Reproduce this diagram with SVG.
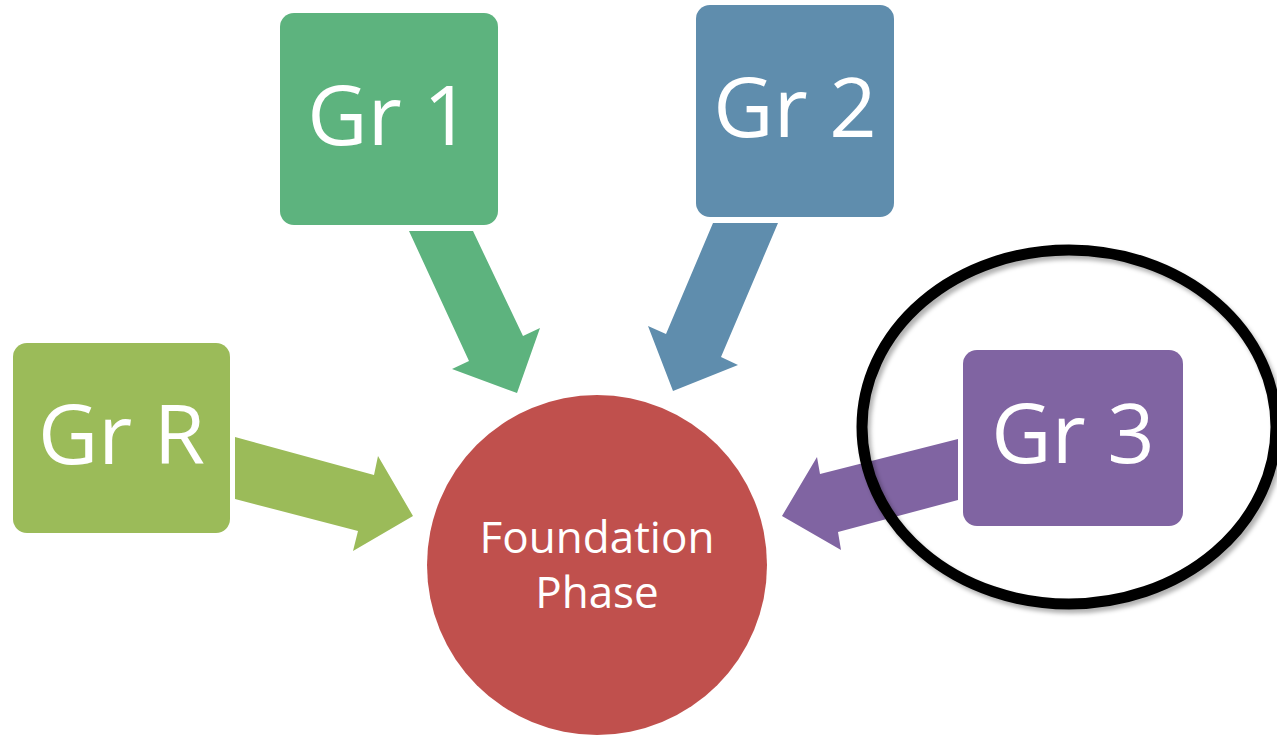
<svg xmlns="http://www.w3.org/2000/svg" width="1277" height="735" viewBox="0 0 1277 735">
<style>
.lbl{font-family:"Open Sans","Noto Sans",sans-serif;fill:#fff;text-anchor:middle}
.big{font-size:83px}
.mid{font-size:44px}
</style>
<defs>
<filter id="sh" x="-10%" y="-10%" width="120%" height="120%">
<feGaussianBlur stdDeviation="2"/>
</filter>
</defs>
<rect width="1277" height="735" fill="#fff"/>
<g id="connectors">
<polygon fill="#5db37e" points="409,231 473,231 523,336 540,328 517,393 452,369 469,361"/>
<polygon fill="#5f8dad" points="713,223 778,223 721,357 738,365 673,391 648,326 666,334"/>
<polygon fill="#9bbb59" points="235,437 374,475 378,456 413,516 353,551 358,531 235,499"/>
<polygon fill="#8064a2" points="958,439 820,474 817,457 782,516 841,550 838,532 958,500"/>
</g>
<g id="node-foundation">
<circle cx="597" cy="565" r="170" fill="#c0504d"/>
<text class="lbl mid" x="597" y="553">Foundation</text>
<text class="lbl mid" x="597" y="608">Phase</text>
</g>
<g id="node-gr1">
<rect x="280" y="13" width="218" height="212" rx="14" fill="#5db37e"/>
<text class="lbl big" x="389" y="145">Gr 1</text>
</g>
<g id="node-gr2">
<rect x="696" y="5" width="198" height="212" rx="14" fill="#5f8dad"/>
<text class="lbl big" x="795" y="137">Gr 2</text>
</g>
<g id="node-grr">
<rect x="13" y="343" width="217" height="190" rx="14" fill="#9bbb59"/>
<text class="lbl big" x="121.5" y="464">Gr R</text>
</g>
<g id="node-gr3">
<rect x="963" y="350" width="220" height="176" rx="14" fill="#8064a2"/>
<text class="lbl big" x="1073" y="463">Gr 3</text>
</g>
<g id="highlight">
<ellipse cx="1072" cy="431" rx="207" ry="177" fill="none" stroke="#000" stroke-opacity="0.3" stroke-width="11" filter="url(#sh)"/>
<ellipse cx="1069" cy="427" rx="207" ry="177" fill="none" stroke="#000" stroke-width="11"/>
</g>
</svg>
